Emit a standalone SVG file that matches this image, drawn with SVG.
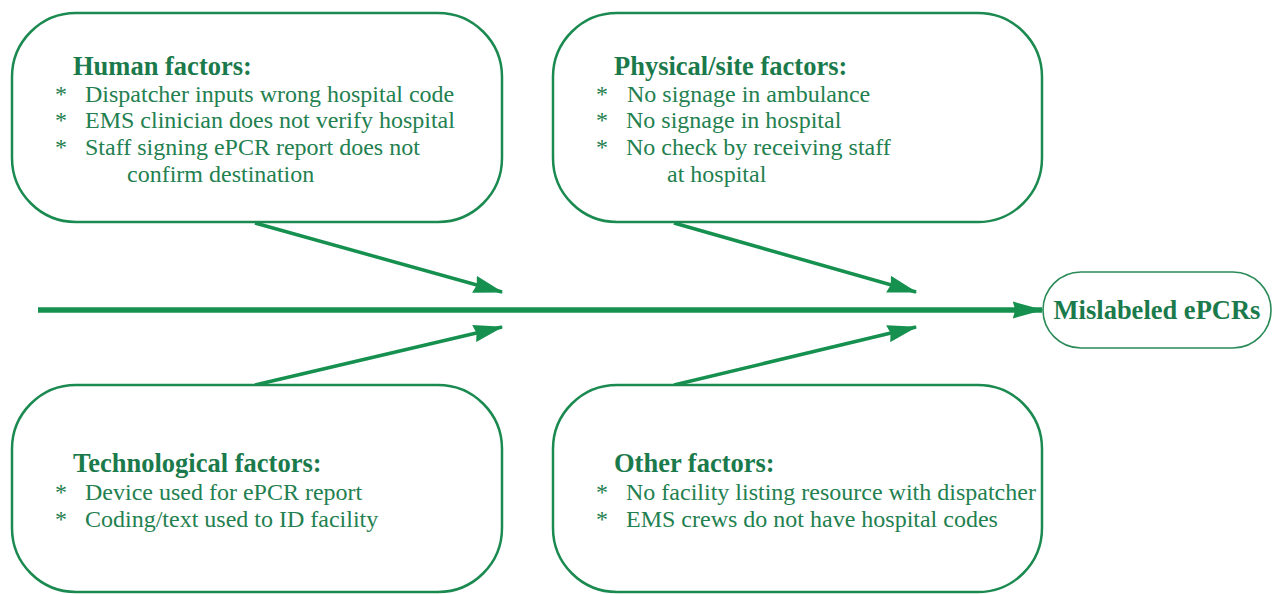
<svg xmlns="http://www.w3.org/2000/svg" width="1276" height="594" viewBox="0 0 1276 594">
  <style>
    .box { fill: #ffffff; stroke: #1b8a50; stroke-width: 2.5; }
    .outcome { fill: #ffffff; stroke: #2a8a58; stroke-width: 1.6; }
    .title { font-family: "Liberation Serif", "Times New Roman", serif; font-weight: bold; font-size: 26.5px; fill: #1b7a4b; }
    .item { font-family: "Liberation Serif", "Times New Roman", serif; font-size: 24px; fill: #23804f; }
    .spine { stroke: #16904f; stroke-width: 5.5; fill: none; }
    .bone { stroke: #16904f; stroke-width: 3.5; fill: none; }
  </style>
  <defs>
    <marker id="boneHead" viewBox="0 0 10 10" refX="9.5" refY="5" markerWidth="8.6" markerHeight="5" orient="auto" preserveAspectRatio="none">
      <path d="M0,0 L10,5 L0,10 L0.8,5 Z" fill="#16904f"/>
    </marker>
    <marker id="spineHead" viewBox="0 0 10 10" refX="9.5" refY="5" markerWidth="5.6" markerHeight="3.1" orient="auto" preserveAspectRatio="none">
      <path d="M0,0 L10,5 L0,10 L0.8,5 Z" fill="#16904f"/>
    </marker>
  </defs>

  <!-- connectors: spine and the four bones -->
  <g id="connectors">
    <line class="spine" x1="38" y1="310" x2="1042" y2="310" marker-end="url(#spineHead)"/>
    <line class="bone" x1="255" y1="223" x2="502" y2="292" marker-end="url(#boneHead)"/>
    <line class="bone" x1="674" y1="223" x2="916" y2="292" marker-end="url(#boneHead)"/>
    <line class="bone" x1="255" y1="385" x2="502" y2="327" marker-end="url(#boneHead)"/>
    <line class="bone" x1="674" y1="385" x2="916" y2="327" marker-end="url(#boneHead)"/>
  </g>

  <g id="human-factors">
    <rect class="box" x="12" y="13" width="490" height="209" rx="64" ry="64"/>
    <text class="title" x="73" y="75">Human factors:</text>
    <text class="item" x="55" y="102">*</text>
    <text class="item" x="85" y="102">Dispatcher inputs wrong hospital code</text>
    <text class="item" x="55" y="128">*</text>
    <text class="item" x="85" y="128">EMS clinician does not verify hospital</text>
    <text class="item" x="55" y="155">*</text>
    <text class="item" x="85" y="155">Staff signing ePCR report does not</text>
    <text class="item" x="127" y="182">confirm destination</text>
  </g>

  <g id="physical-site-factors">
    <rect class="box" x="553" y="13" width="489" height="209" rx="64" ry="64"/>
    <text class="title" x="614" y="75">Physical/site factors:</text>
    <text class="item" x="596" y="102">*</text>
    <text class="item" x="627" y="102">No signage in ambulance</text>
    <text class="item" x="596" y="128">*</text>
    <text class="item" x="626" y="128">No signage in hospital</text>
    <text class="item" x="596" y="155">*</text>
    <text class="item" x="626" y="155">No check by receiving staff</text>
    <text class="item" x="667" y="182">at hospital</text>
  </g>

  <g id="technological-factors">
    <rect class="box" x="12" y="385" width="490" height="207" rx="64" ry="64"/>
    <text class="title" x="73" y="472">Technological factors:</text>
    <text class="item" x="55" y="500">*</text>
    <text class="item" x="85" y="500">Device used for ePCR report</text>
    <text class="item" x="55" y="527">*</text>
    <text class="item" x="85" y="527">Coding/text used to ID facility</text>
  </g>

  <g id="other-factors">
    <rect class="box" x="553" y="385" width="489" height="207" rx="64" ry="64"/>
    <text class="title" x="614" y="472">Other factors:</text>
    <text class="item" x="596" y="500">*</text>
    <text class="item" x="626" y="500">No facility listing resource with dispatcher</text>
    <text class="item" x="596" y="527">*</text>
    <text class="item" x="626" y="527">EMS crews do not have hospital codes</text>
  </g>

  <g id="mislabeled-epcrs">
    <rect class="outcome" x="1043" y="272" width="228" height="76" rx="38" ry="38"/>
    <text class="title" x="1157" y="319" text-anchor="middle">Mislabeled ePCRs</text>
  </g>
</svg>
